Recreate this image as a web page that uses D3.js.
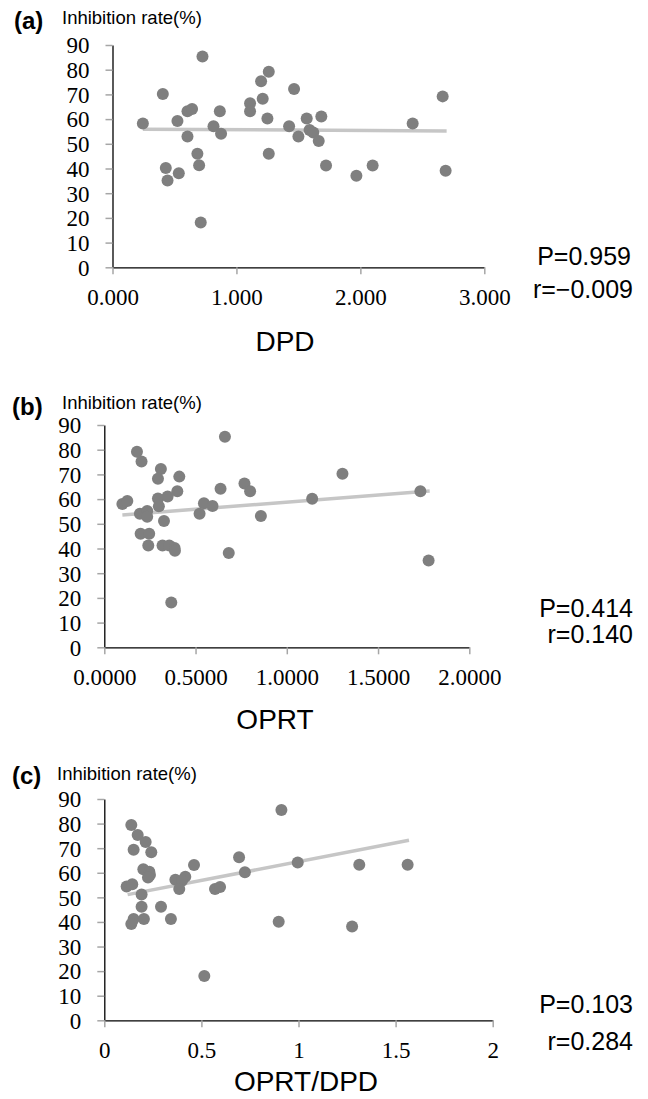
<!DOCTYPE html>
<html>
<head>
<meta charset="utf-8">
<script src="https://cdn.jsdelivr.net/npm/d3@7"></script>
<style>
  html, body { margin: 0; padding: 0; background: #fff; }
  svg { display: block; }
</style>
</head>
<body>
<svg id="chart" width="648" height="1099"></svg>
<script>
// ---------------- DATA ----------------
const yTicks = [0, 10, 20, 30, 40, 50, 60, 70, 80, 90];

// (a) DPD vs inhibition rate
const dpdX = [0.245, 0.406, 0.726, 0.524, 0.605, 0.642, 0.605, 0.430, 0.444, 0.535, 0.685, 0.699, 0.712,
  0.815, 0.866, 0.876, 1.110, 1.110, 1.199, 1.212, 1.261, 1.250, 1.261, 1.465, 1.425, 1.500, 1.567,
  1.590, 1.620, 1.664, 1.685, 1.723, 1.968, 2.099, 2.422, 2.664, 2.688];
const dpdY = [58.2, 70.2, 85.3, 59.2, 63.2, 64.1, 53.0, 40.2, 35.1, 38.1, 46.0, 41.3, 18.1,
  57.1, 63.2, 54.1, 66.4, 63.2, 75.3, 68.2, 79.2, 60.2, 46.0, 72.2, 57.1, 53.0, 60.2,
  55.6, 54.6, 51.1, 61.1, 41.2, 37.1, 41.2, 58.2, 69.2, 39.1];
const dpdTicks = [0, 1, 2, 3];
const dpdTrend = [[0.245, 55.9], [2.696, 55.2]];

// (b) OPRT vs inhibition rate
const oprtX = [0.099, 0.126, 0.179, 0.204, 0.195, 0.235, 0.235, 0.199, 0.246, 0.241, 0.310, 0.294, 0.294,
  0.299, 0.327, 0.319, 0.356, 0.385, 0.387, 0.347, 0.400, 0.411, 0.367, 0.522, 0.546, 0.593, 0.637,
  0.661, 0.682, 0.768, 0.799, 0.858, 1.139, 1.305, 1.732, 1.777];
const oprtY = [58.0, 59.2, 79.2, 75.2, 54.1, 55.2, 52.9, 46.0, 46.0, 41.2, 72.2, 68.2, 60.2,
  57.1, 51.1, 41.2, 41.2, 40.2, 39.1, 61.1, 63.2, 69.1, 18.1, 54.1, 58.3, 57.2, 64.2,
  85.2, 38.2, 66.3, 63.2, 53.2, 60.1, 70.3, 63.2, 35.1];
const oprtTicks = [0, 0.5, 1, 1.5, 2];
const oprtTrend = [[0.099, 53.6], [1.783, 63.3]];

// (c) OPRT/DPD vs inhibition rate
const ratioX = [0.139, 0.172, 0.213, 0.151, 0.242, 0.201, 0.232, 0.235, 0.225, 0.115, 0.144, 0.192, 0.192,
  0.151, 0.139, 0.204, 0.292, 0.343, 0.366, 0.417, 0.400, 0.386, 0.462, 0.515, 0.570, 0.596,
  0.694, 0.724, 0.898, 0.912, 0.996, 1.276, 1.313, 1.562];
const ratioY = [79.4, 75.4, 72.5, 69.4, 68.3, 61.4, 60.4, 59.1, 58.1, 54.4, 55.3, 51.2, 46.2,
  41.2, 39.2, 41.2, 46.2, 41.2, 57.2, 58.4, 56.8, 53.4, 63.2, 18.0, 53.4, 54.2,
  66.3, 60.2, 40.1, 85.5, 64.2, 38.1, 63.3, 63.3];
const ratioTicks = [0, 0.5, 1, 1.5, 2];
const ratioTrend = [[0.120, 51.1], [1.569, 73.2]];

const panelLetters = ["(a)", "(b)", "(c)"];
const yTitle = "Inhibition rate(%)";
const xTitles = ["DPD", "OPRT", "OPRT/DPD"];
const pLabels = ["P=0.959", "P=0.414", "P=0.103"];
const rLabels = ["r=\u22120.009", "r=0.140", "r=0.284"];

// ---------------- LAYOUT ----------------
const panels = [
  { x: dpdX, y: dpdY, xTicks: dpdTicks, trend: dpdTrend, xDomain: [0, 3], fmt: d3.format(".3f"),
    left: 112.5, right: 484.3, top: 45, bottom: 267.3,
    letterPos: [14, 29], yTitlePos: [62, 24], xTitlePos: [285, 351], pPos: [631, 265], rPos: [633, 298] },
  { x: oprtX, y: oprtY, xTicks: oprtTicks, trend: oprtTrend, xDomain: [0, 2], fmt: d3.format(".4f"),
    left: 104.3, right: 469.3, top: 425, bottom: 647.3,
    letterPos: [12, 415], yTitlePos: [62, 409], xTitlePos: [275, 729], pPos: [633, 617], rPos: [633, 643] },
  { x: ratioX, y: ratioY, xTicks: ratioTicks, trend: ratioTrend, xDomain: [0, 2], fmt: d3.format("~g"),
    left: 104.3, right: 492.7, top: 799, bottom: 1020.3,
    letterPos: [12, 784], yTitlePos: [57, 780], xTitlePos: [306, 1091], pPos: [633, 1013], rPos: [633, 1050] }
];

const svg = d3.select("#chart");
const serif = "Liberation Serif";
const sans = "Liberation Sans";

panels.forEach((p, i) => {
  const xs = d3.scaleLinear().domain(p.xDomain).range([p.left, p.right]);
  const ys = d3.scaleLinear().domain([0, 90]).range([p.bottom, p.top]);
  const g = svg.append("g");

  const yAxis = g.append("g")
    .attr("transform", `translate(${p.left},0)`)
    .call(d3.axisLeft(ys).tickValues(yTicks).tickSize(7).tickSizeOuter(0).tickPadding(16));
  const xAxis = g.append("g")
    .attr("transform", `translate(0,${p.bottom})`)
    .call(d3.axisBottom(xs).tickValues(p.xTicks).tickFormat(p.fmt).tickSize(7).tickSizeOuter(0));

  [yAxis, xAxis].forEach(ax => {
    ax.attr("font-family", serif).attr("font-size", 23);
    ax.select(".domain").attr("stroke", "#000").attr("stroke-width", 1.3);
    ax.selectAll(".tick line").attr("stroke", "#a6a6a6").attr("stroke-width", 1.5);
    ax.selectAll(".tick text").style("font-family", serif).style("font-size", "23px").attr("fill", "#000");
  });
  yAxis.selectAll(".tick text").attr("dy", "0.34em");
  xAxis.selectAll(".tick text").attr("y", 38).attr("dy", 0);

  g.append("line")
    .attr("x1", xs(p.trend[0][0])).attr("y1", ys(p.trend[0][1]))
    .attr("x2", xs(p.trend[1][0])).attr("y2", ys(p.trend[1][1]))
    .attr("stroke", "#c6c6c6").attr("stroke-width", 3.5);

  g.selectAll("circle").data(p.x.map((v, k) => [v, p.y[k]])).join("circle")
    .attr("cx", d => xs(d[0])).attr("cy", d => ys(d[1])).attr("r", 6)
    .attr("fill", "#7f7f7f");

  g.append("text").attr("x", p.letterPos[0]).attr("y", p.letterPos[1])
    .style("font-family", sans).style("font-weight", "bold").style("font-size", "24px").text(panelLetters[i]);
  g.append("text").attr("x", p.yTitlePos[0]).attr("y", p.yTitlePos[1])
    .style("font-family", sans).style("font-size", "18.5px").text(yTitle);
  g.append("text").attr("x", p.xTitlePos[0]).attr("y", p.xTitlePos[1]).attr("text-anchor", "middle")
    .style("font-family", sans).style("font-size", "28px").text(xTitles[i]);
  g.append("text").attr("x", p.pPos[0]).attr("y", p.pPos[1]).attr("text-anchor", "end")
    .style("font-family", sans).style("font-size", "25px").text(pLabels[i]);
  g.append("text").attr("x", p.rPos[0]).attr("y", p.rPos[1]).attr("text-anchor", "end")
    .style("font-family", sans).style("font-size", "25px").text(rLabels[i]);
});
</script>
</body>
</html>
